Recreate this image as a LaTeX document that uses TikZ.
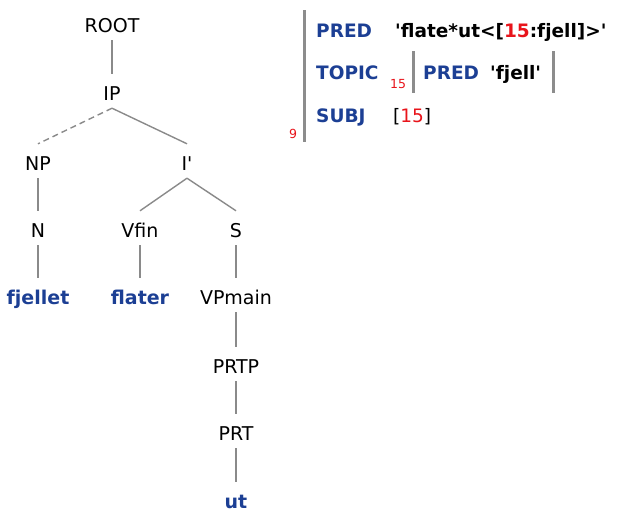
\documentclass[tikz,border=0pt]{standalone}
\usepackage{fontspec}
\setmainfont{DejaVu Sans}
\definecolor{lfgblue}{HTML}{1C3F94}
\definecolor{idxred}{HTML}{E8141B}
\definecolor{edgegray}{HTML}{8A8A8A}
\definecolor{bargray}{HTML}{8C8C8C}
\begin{document}
\begin{tikzpicture}[x=1pt,y=-1pt,
  cat/.style={font=\fontsize{19}{21}\selectfont, inner sep=0pt,
              text height=26pt, text depth=8pt, anchor=base},
  word/.style={cat, font=\fontsize{19}{21}\selectfont\bfseries, text=lfgblue},
  edge/.style={draw=edgegray, line width=1.4pt},
  dashededge/.style={edge, dash pattern=on 6pt off 4pt},
  attr/.style={font=\fontsize{18.5}{21}\selectfont\bfseries, text=lfgblue,
               anchor=base west, inner sep=0pt},
  val/.style={font=\fontsize{18.5}{21}\selectfont\bfseries, anchor=base west, inner sep=0pt},
  plain/.style={font=\fontsize{18.5}{21}\selectfont, anchor=base west, inner sep=0pt},
  idx/.style={font=\fontsize{12.5}{14}\selectfont, text=idxred, anchor=base west, inner sep=0pt},
  bar/.style={draw=bargray, line width=3pt}
]
\useasboundingbox (0,0) rectangle (621,514);

% c-structure tree
\node[cat]  (root)   at (112,32)  {ROOT};
\node[cat]  (ip)     at (112,100) {IP};
\node[cat]  (np)     at (38,170)  {NP};
\node[cat]  (ibar)   at (187,170) {I\textquotesingle};
\node[cat]  (n)      at (38,237)  {N};
\node[cat]  (vfin)   at (140,237) {Vfin};
\node[cat]  (s)      at (236,237) {S};
\node[word] (fjellet) at (38,304) {fjellet};
\node[word] (flater) at (140,304) {flater};
\node[cat]  (vpmain) at (236,304) {VPmain};
\node[cat]  (prtp)   at (236,373) {PRTP};
\node[cat]  (prt)    at (236,440) {PRT};
\node[word] (ut)     at (236,508) {ut};

\draw[edge] (root.south) -- (ip.north);
\draw[dashededge] (ip.south) -- (np.north);
\draw[edge] (ip.south) -- (ibar.north);
\draw[edge] (np.south) -- (n.north);
\draw[edge] (ibar.south) -- (vfin.north);
\draw[edge] (ibar.south) -- (s.north);
\draw[edge] (n.south) -- (fjellet.north);
\draw[edge] (vfin.south) -- (flater.north);
\draw[edge] (s.south) -- (vpmain.north);
\draw[edge] (vpmain.south) -- (prtp.north);
\draw[edge] (prtp.south) -- (prt.north);
\draw[edge] (prt.south) -- (ut.north);

% f-structure
\draw[bar] (304,10) -- (304,142);
\node[attr] (pred) at (316,37) {PRED};
\node[val]  (predval) at (395,37) {\textquotesingle flate*ut<[\textcolor{idxred}{15}:fjell]>\textquotesingle};
\node[attr] (topic) at (316,79) {TOPIC};
\node[idx]  (topicidx) at (390,88) {15};
\draw[bar] (413,51) -- (413,93);
\node[attr] (ipred) at (423,79) {PRED};
\node[val]  (ipredval) at (490,79) {\textquotesingle fjell\textquotesingle};
\draw[bar] (553,51) -- (553,93);
\node[attr] (subj) at (316,122) {SUBJ};
\node[plain] (subjval) at (393,122) {[\textcolor{idxred}{15}]};
\node[idx] (outeridx) at (289,138) {9};
\end{tikzpicture}
\end{document}
